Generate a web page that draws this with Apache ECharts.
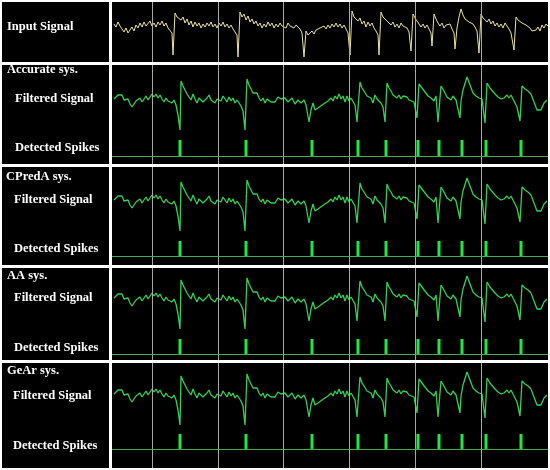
<!DOCTYPE html>
<html><head><meta charset="utf-8">
<script src="https://cdn.jsdelivr.net/npm/echarts@6/dist/echarts.min.js"></script>
<style>html,body{margin:0;padding:0;background:#fff}#c{width:550px;height:470px}</style>
</head><body><div id="c"></div>
<script>
// time marks (vertical reference lines) in sample units
const gridTimes = [40,106,171,237,303,369];
// detected spike times (sample units)
const spikeTimes = [68,134,200,246,274,306,327,350,374,409];
const systems = ['Accurate sys.','CPredA sys.','AA sys.','GeAr sys.'];
// raw input signal [t, amplitude]
const inputSignal = [[2,1],[4,-2],[6,3],[8,-1],[10,-4],[12,-7],[14,-3],[16,-8],[18,-5],[20,-2],[22,-6],[24,0],[26,-3],[28,2],[30,-2],[32,3],[34,-1],[36,1],[38,4],[40,-1],[42,2],[44,-2],[46,3],[48,0],[50,4],[52,-1],[54,2],[56,-3],[58,-5],[60,-8],[61,-30],[63,12],[65,8],[67,10],[69,5],[71,8],[73,2],[75,6],[77,0],[79,4],[81,-2],[83,3],[85,-1],[87,2],[89,-3],[91,1],[93,-2],[95,2],[97,-1],[99,3],[101,-2],[103,1],[105,-3],[107,2],[109,-1],[111,3],[113,-2],[115,1],[117,-3],[119,0],[121,-4],[123,-6],[125,-10],[126,-32],[128,13],[130,8],[132,11],[134,5],[136,9],[138,3],[140,6],[142,1],[144,4],[146,-1],[148,2],[150,-3],[152,1],[154,-2],[156,3],[158,-1],[160,2],[162,-3],[164,1],[166,-2],[168,2],[170,-1],[172,1],[174,-3],[176,2],[178,-1],[180,1],[182,-3],[184,0],[186,-2],[188,-4],[190,-8],[192,-32],[194,-6],[196,-10],[198,-8],[200,-6],[202,-9],[204,-5],[206,-7],[208,-3],[210,-5],[212,-1],[214,-4],[216,0],[218,-3],[220,1],[222,-2],[224,2],[226,-2],[228,1],[230,-3],[232,0],[234,-4],[236,-8],[238,-30],[240,14],[242,8],[244,10],[246,4],[248,7],[250,1],[252,4],[254,-2],[256,3],[258,-1],[260,2],[262,-3],[264,-6],[266,-10],[267,-30],[269,13],[271,8],[273,10],[275,4],[277,6],[279,0],[281,3],[283,-2],[285,1],[287,-3],[289,2],[291,-1],[293,1],[295,-3],[297,-7],[299,-26],[301,11],[303,7],[305,4],[307,2],[309,-2],[311,1],[313,-3],[315,0],[317,-4],[319,-8],[320,-21],[322,11],[324,6],[326,2],[328,-1],[330,2],[332,-3],[334,0],[336,-2],[338,1],[340,-4],[342,-8],[343,-24],[345,-3],[347,8],[349,16],[351,10],[353,6],[355,8],[357,3],[359,5],[361,1],[363,-2],[365,-6],[367,-28],[369,11],[371,7],[373,9],[375,3],[377,6],[379,1],[381,4],[383,-1],[385,2],[387,-2],[389,1],[391,-3],[393,2],[395,-1],[397,-4],[399,-8],[402,-25],[404,8],[406,5],[408,6],[410,2],[412,4],[414,0],[416,2],[418,-3],[420,-6],[422,-8],[424,-5],[426,-2],[428,-6],[430,0],[432,-3],[434,1],[436,-1]];
// filtered signal [t, amplitude]
const filteredSignal = [[2,-2],[4,0],[6,2],[8,3],[10,2],[12,-3],[14,-5],[16,-2],[18,-7],[20,-10],[22,-8],[24,-4],[26,-6],[28,-1],[30,-5],[32,-2],[34,1],[36,-3],[38,-1],[40,3],[42,0],[44,3],[46,-1],[48,2],[50,-2],[52,-5],[54,-1],[56,-4],[58,-2],[60,-6],[62,-3],[64,-8],[66,-18],[68,-33],[69,16],[71,11],[73,7],[75,3],[77,0],[79,-3],[81,3],[83,-2],[85,-6],[87,-1],[89,1],[91,-5],[93,-6],[95,-1],[97,2],[99,-3],[101,-1],[103,-6],[105,-2],[107,0],[109,-4],[111,1],[113,-2],[115,-5],[117,0],[119,-4],[121,-1],[123,-6],[125,-3],[127,-5],[129,-9],[131,-14],[133,-33],[135,18],[137,12],[139,8],[141,4],[143,2],[145,4],[147,-1],[149,-4],[151,-1],[153,-6],[155,-2],[157,0],[159,-5],[161,-3],[163,-5],[166,0],[169,-2],[173,-1],[176,-5],[180,-1],[183,-7],[186,-3],[189,-6],[192,-3],[194,-8],[197,-25],[199,-13],[201,-6],[203,-13],[206,-11],[210,-8],[213,-6],[216,-4],[219,-1],[221,-4],[223,1],[225,-2],[227,3],[229,-2],[231,1],[233,-5],[235,1],[237,-4],[239,-1],[241,-3],[243,-8],[245,-25],[248,15],[250,9],[252,6],[255,1],[257,3],[259,-1],[261,-6],[263,2],[265,-2],[267,-1],[269,-6],[271,-10],[273,-25],[275,14],[277,9],[279,6],[281,2],[283,4],[285,-1],[287,2],[289,-2],[291,1],[293,-1],[295,0],[297,-3],[299,-1],[302,-5],[305,-21],[307,13],[310,9],[313,5],[316,1],[319,-1],[322,-4],[324,1],[326,-25],[329,11],[332,6],[335,0],[337,2],[339,-3],[341,1],[344,-3],[346,-1],[348,-21],[349,-4],[351,7],[355,20],[358,12],[361,4],[364,1],[367,-1],[370,-2],[371,-10],[373,-26],[375,14],[378,9],[380,7],[383,3],[386,0],[389,-2],[392,-1],[395,2],[397,-1],[399,2],[402,-4],[405,-10],[408,-24],[410,11],[413,8],[416,6],[419,3],[422,-5],[425,-13],[427,-15],[429,-13],[432,-6],[435,-3]];

const panels = [
  {top:2, h:60, sig:[-37,23]},
  {top:65, h:99, sig:[-67,32], spk:[-0.5,5.69], lab:[70,99,148], lx:[7,15]},
  {top:167, h:98, sig:[-67,31], spk:[-0.6,5.93], lab:[177,200,249], lx:[6,14]},
  {top:268, h:92, sig:[-64,28], spk:[-0.4,5.73], lab:[276,298,348], lx:[7,14]},
  {top:363, h:105, sig:[-76,29], spk:[-1.27,5.73], lab:[371,396,446], lx:[7,13]}
];

const font = {fontFamily:'Liberation Serif', fontWeight:'bold', fontSize:12.5, fill:'#fff', verticalAlign:'middle'};
const grid=[], xAxis=[], yAxis=[], series=[], graphic=[];
const hidden = {show:false};
panels.forEach((p,i)=>{
  grid.push({left:112, right:2, top:p.top, height:p.h, show:true, backgroundColor:'#000', borderWidth:0, containLabel:false});
  graphic.push({type:'rect', shape:{x:2, y:p.top, width:107, height:p.h}, style:{fill:'#000'}, z:0});
  xAxis.push({type:'value', gridIndex:i, min:0, max:436, show:false});
  const sy = yAxis.length;
  yAxis.push({type:'value', gridIndex:i, min:p.sig[0], max:p.sig[1], show:false});
  series.push({
    type:'line', xAxisIndex:i, yAxisIndex:sy, data: i===0 ? inputSignal : filteredSignal,
    symbol:'none', animation:false, silent:true,
    lineStyle:{color: i===0 ? '#e9e49c' : '#34d052', width: i===0 ? 1 : 1.3},
    markLine:{silent:true, symbol:'none', animation:false, label:{show:false},
      lineStyle:{color:'#a8a8a8', type:'solid', width:1},
      data: gridTimes.map(t=>({xAxis:t}))}
  });
  if(i===0){
    graphic.push({type:'text', style:Object.assign({text:'Input Signal', x:7, y:27}, font), z:10});
  } else {
    const ky = yAxis.length;
    yAxis.push({type:'value', gridIndex:i, min:p.spk[0], max:p.spk[1], show:false});
    series.push({
      type:'bar', xAxisIndex:i, yAxisIndex:ky, barWidth:3, animation:false, silent:true,
      data: spikeTimes.map(t=>[t,1]), itemStyle:{color:'#1ee845'},
      markLine:{silent:true, symbol:'none', animation:false, label:{show:false},
        lineStyle:{color:'#3fae55', type:'solid', width:1.2}, data:[{yAxis:0}]}
    });
    graphic.push({type:'text', style:Object.assign({text:systems[i-1], x:p.lx[0], y:p.lab[0]}, font), z:10});
    graphic.push({type:'text', style:Object.assign({text:'Filtered Signal', x:p.lx[1], y:p.lab[1]}, font), z:10});
    graphic.push({type:'text', style:Object.assign({text:'Detected Spikes', x:p.lx[1], y:p.lab[2]}, font), z:10});
  }
});
const chart = echarts.init(document.getElementById('c'), null, {renderer:'canvas'});
chart.setOption({backgroundColor:'#fff', animation:false, grid, xAxis, yAxis, series, graphic});
</script>
</body></html>
